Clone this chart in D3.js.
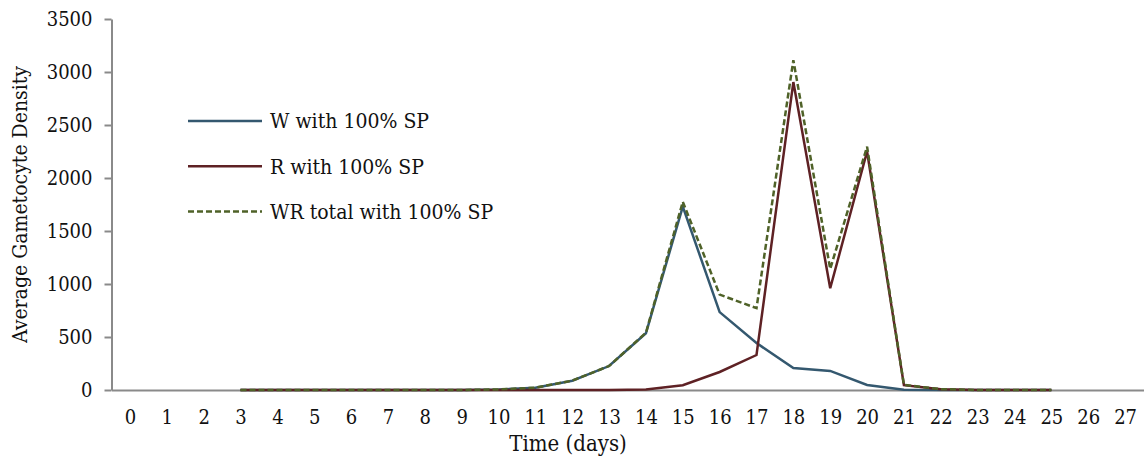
<!DOCTYPE html>
<html>
<head>
<meta charset="utf-8">
<script src="https://cdn.jsdelivr.net/npm/d3@7"></script>
<style>
  body { margin: 0; background: #fff; }
  svg text { font-stretch: condensed; }
</style>
</head>
<body>
<div id="chart"></div>
<script>
// tick labels for x axis (days) and y axis
var days = d3.range(0, 28);
var yTicks = [0, 500, 1000, 1500, 2000, 2500, 3000, 3500];

// days the series are plotted for
var seriesDays = [3, 4, 5, 6, 7, 8, 9, 10, 11, 12, 13, 14, 15, 16, 17, 18, 19, 20, 21, 22, 23, 24, 25];
var wValues =     [0, 0, 0, 0, 0, 0, 0, 5, 22, 88, 226, 535, 1730, 735, 443, 207, 180, 47, 3, 0, 0, 0, 0];
var rValues =     [0, 0, 0, 0, 0, 0, 0, 0, 0, 0, 0, 5, 45, 170, 330, 2905, 960, 2250, 45, 8, 0, 0, 0];
var totalValues = [0, 0, 0, 0, 0, 0, 0, 5, 22, 88, 226, 540, 1776, 900, 772, 3112, 1142, 2296, 48, 8, 0, 0, 0];

var seriesNames = ["W with 100% SP", "R with 100% SP", "WR total with 100% SP"];

var font = "'DejaVu Serif Condensed', 'DejaVu Serif', serif";

var margin = { top: 19, right: 0.5, bottom: 68, left: 111.5 },
    width = 1144 - margin.left - margin.right,
    height = 458 - margin.top - margin.bottom;

var svg = d3.select("#chart").append("svg")
    .attr("width", 1144)
    .attr("height", 458)
    .attr("font-family", font);

var g = svg.append("g")
    .attr("transform", "translate(" + margin.left + "," + margin.top + ")");

var x = d3.scalePoint()
    .domain(days)
    .range([0, width])
    .padding(0.5);

var y = d3.scaleLinear()
    .domain([0, 3500])
    .range([height, 0]);

var series = [
    { name: seriesNames[0], values: wValues, color: "#34586f", dash: null },
    { name: seriesNames[1], values: rValues, color: "#5e2124", dash: null },
    { name: seriesNames[2], values: totalValues, color: "#4f6228", dash: "6,3" }
];

// axes
var yAxis = g.append("g")
    .call(d3.axisLeft(y).tickValues(yTicks).tickFormat(d3.format("d"))
        .tickSize(7).tickSizeOuter(0).tickPadding(12));

var xAxis = g.append("g")
    .attr("transform", "translate(0," + height + ")")
    .call(d3.axisBottom(x).tickSize(0).tickSizeOuter(0).tickPadding(20));

[yAxis, xAxis].forEach(function(a) {
    a.attr("font-family", font).attr("font-size", 20);
    a.select(".domain").attr("stroke", "#8a8a8a").attr("stroke-width", 2);
    a.selectAll(".tick line").attr("stroke", "#8a8a8a").attr("stroke-width", 2);
    a.selectAll(".tick text").attr("fill", "#111");
});

// lines
var line = d3.line()
    .x(function(d, i) { return x(seriesDays[i]); })
    .y(function(d) { return y(d); });

series.forEach(function(s) {
    g.append("path")
        .datum(s.values)
        .attr("fill", "none")
        .attr("stroke", s.color)
        .attr("stroke-width", 2.5)
        .attr("stroke-dasharray", s.dash)
        .attr("d", line);
});

// axis titles
svg.append("text")
    .attr("x", 568)
    .attr("y", 451)
    .attr("text-anchor", "middle")
    .attr("font-size", 22)
    .attr("fill", "#111")
    .text("Time (days)");

svg.append("text")
    .attr("transform", "translate(27," + (margin.top + height / 2) + ") rotate(-90)")
    .attr("text-anchor", "middle")
    .attr("font-size", 21)
    .attr("fill", "#111")
    .text("Average Gametocyte Density");

// legend
var legend = svg.append("g")
    .attr("transform", "translate(188,121)");

series.forEach(function(s, i) {
    var row = legend.append("g").attr("transform", "translate(0," + (i * 45.3) + ")");
    row.append("line")
        .attr("x1", 0).attr("x2", 74)
        .attr("stroke", s.color)
        .attr("stroke-width", 2.5)
        .attr("stroke-dasharray", s.dash);
    row.append("text")
        .attr("x", 82)
        .attr("dy", "0.35em")
        .attr("font-size", 21)
        .attr("fill", "#111")
        .text(s.name);
});
</script>
</body>
</html>
